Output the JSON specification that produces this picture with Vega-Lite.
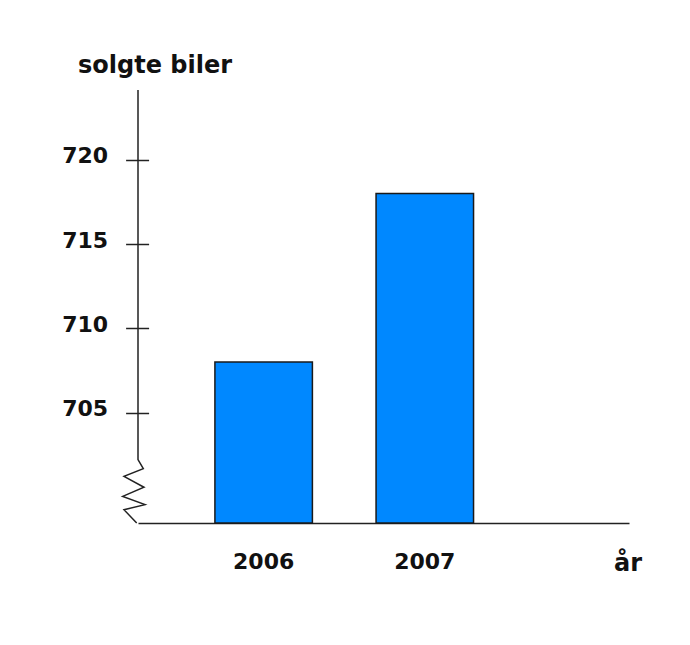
{
  "$schema": "https://vega.github.io/schema/vega-lite/v6.json",
  "autosize": "none",
  "width": 491,
  "height": 433,
  "padding": {"left": 138, "top": 90, "right": 61, "bottom": 122},
  "background": "white",
  "datasets": {
    "salg": [
      {"year": "2006", "solgt": 708},
      {"year": "2007", "solgt": 718}
    ],
    "akse": [
      {"i": 0, "dx": 0, "v": 724.15},
      {"i": 1, "dx": 0, "v": 702.21},
      {"i": 2, "dx": 5.3, "v": 701.68},
      {"i": 3, "dx": -14, "v": 701.22},
      {"i": 4, "dx": 6, "v": 700.57},
      {"i": 5, "dx": -15.3, "v": 700.03},
      {"i": 6, "dx": 7, "v": 699.54},
      {"i": 7, "dx": -14, "v": 699.24},
      {"i": 8, "dx": -1.3, "v": 698.45}
    ]
  },
  "config": {
    "view": {"stroke": null},
    "axis": {"grid": false}
  },
  "layer": [
    {
      "data": {"name": "salg"},
      "mark": {"type": "bar", "color": "#0088ff", "stroke": "#1a1a1a", "strokeWidth": 1.5},
      "encoding": {
        "x": {
          "field": "year",
          "type": "nominal",
          "scale": {"paddingInner": 0.395, "paddingOuter": 0.721, "align": 0.331},
          "axis": {
            "labelAngle": 0,
            "ticks": false,
            "domainColor": "#222",
            "domainWidth": 1.5,
            "labelFont": "DejaVu Sans",
            "labelFontWeight": "bold",
            "labelFontSize": 22,
            "labelColor": "#111",
            "labelPadding": 28,
            "title": "år",
            "titleFont": "DejaVu Sans",
            "titleFontWeight": "bold",
            "titleFontSize": 24,
            "titleColor": "#111",
            "titleX": 489.5,
            "titleY": 47.7,
            "titleAlign": "center",
            "titleBaseline": "alphabetic"
          }
        },
        "y": {
          "field": "solgt",
          "type": "quantitative",
          "scale": {"domain": [698.45, 724.15], "nice": false, "zero": false},
          "axis": {
            "values": [705, 710, 715, 720],
            "domain": false,
            "offset": -10.6,
            "tickSize": 23,
            "tickColor": "#222",
            "tickWidth": 1.5,
            "labelFont": "DejaVu Sans",
            "labelFontWeight": "bold",
            "labelFontSize": 22,
            "labelColor": "#111",
            "labelPadding": 18,
            "labelOffset": -4,
            "title": "solgte biler",
            "titleFont": "DejaVu Sans",
            "titleFontWeight": "bold",
            "titleFontSize": 24,
            "titleColor": "#111",
            "titleAngle": 0,
            "titleX": 5.9,
            "titleY": -18,
            "titleAlign": "center",
            "titleBaseline": "alphabetic"
          }
        },
        "y2": {"datum": 698.45}
      }
    },
    {
      "data": {"name": "akse"},
      "mark": {"type": "line", "color": "#222", "strokeWidth": 1.5},
      "encoding": {
        "x": {
          "field": "dx",
          "type": "quantitative",
          "scale": {"domain": [0, 491], "nice": false, "zero": false},
          "axis": null
        },
        "y": {
          "field": "v",
          "type": "quantitative",
          "scale": {"domain": [698.45, 724.15], "nice": false, "zero": false}
        },
        "order": {"field": "i"}
      }
    }
  ],
  "resolve": {"scale": {"x": "independent"}}
}
